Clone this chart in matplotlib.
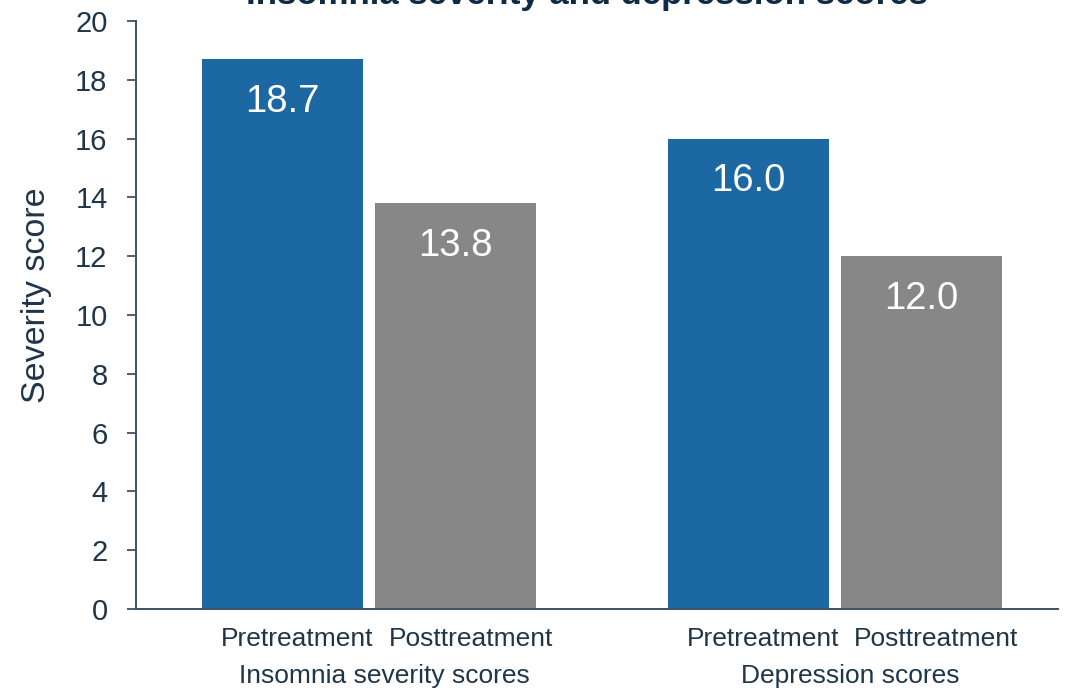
import matplotlib
matplotlib.use("Agg")
import matplotlib.pyplot as plt
import matplotlib.transforms as mtransforms
from matplotlib import font_manager

plt.rcParams['font.family'] = ['Liberation Sans', 'DejaVu Sans']

groups = ["Insomnia severity scores", "Depression scores"]
conditions = ["Pretreatment", "Posttreatment"]
pre_values = [18.7, 16.0]
post_values = [13.8, 12.0]
yticks = [0, 2, 4, 6, 8, 10, 12, 14, 16, 18, 20]
title = "Insomnia severity and depression scores"
ylabel = "Severity score"

blue = "#1b68a3"
gray = "#878787"
text_color = "#1f3549"
spine_color = "#3e5366"

names = {f.name for f in font_manager.fontManager.ttflist}
narrow = 'Liberation Sans Narrow' in names

fig = plt.figure(figsize=(10.68, 6.91), dpi=100)
ax = fig.add_axes([136/1068, 1-609/691, (1058-136)/1068, (609-21)/691])

width = 0.345
offset = 0.186
xs = list(range(len(groups)))
bars_pre = ax.bar([x - offset for x in xs], pre_values, width, color=blue)
bars_post = ax.bar([x + offset for x in xs], post_values, width, color=gray)

for bars in (bars_pre, bars_post):
    for b in bars:
        ax.text(b.get_x() + b.get_width()/2, b.get_height() - 1.45,
                f"{b.get_height():.1f}", ha='center', va='center',
                color='white', fontsize=27.5)

ax.set_xlim(-0.5, 1.479)
ax.set_ylim(0, 20)
ax.set_yticks(yticks)
if narrow:
    ax.set_yticklabels([str(t) for t in yticks], fontsize=25, color=text_color,
                       family=['Liberation Sans Narrow', 'DejaVu Sans'])
else:
    ax.set_yticklabels([str(t) for t in yticks], fontsize=21, color=text_color)
ax.tick_params(axis='y', direction='out', length=6.5, width=1.3, color=spine_color, pad=14)
ax.tick_params(axis='x', length=0, labelbottom=False)
for s in ('top', 'right'):
    ax.spines[s].set_visible(False)
for s in ('left', 'bottom'):
    ax.spines[s].set_color(spine_color)
    ax.spines[s].set_linewidth(1.4)

fig.text(37/1068, 1-295/691, ylabel, rotation=90, ha='center', va='center',
         fontsize=24.5, color=text_color)

shift = mtransforms.ScaledTranslation(15/100, 0, fig.dpi_scale_trans)
trans = mtransforms.blended_transform_factory(ax.transData, fig.transFigure) + shift
for i, g in enumerate(groups):
    ax.text(i - offset, 1-639/691, conditions[0], transform=trans, ha='center', va='center',
            fontsize=19, color=text_color)
    ax.text(i + offset, 1-639/691, conditions[1], transform=trans, ha='center', va='center',
            fontsize=19, color=text_color)
    ax.text(i, 1-676/691, g, transform=trans, ha='center', va='center',
            fontsize=19, color=text_color)

fig.text(587/1068, 1-4/691, title, ha='center', va='baseline', fontsize=25,
         fontweight='bold', color='#0f2a44')

fig.savefig("out.png", dpi=100)
